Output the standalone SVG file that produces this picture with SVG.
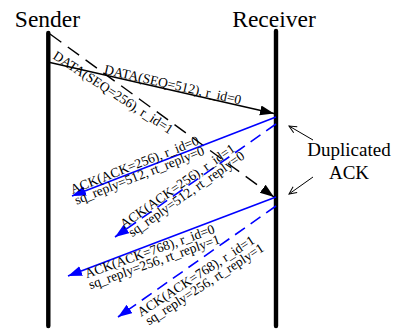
<svg xmlns="http://www.w3.org/2000/svg" width="393" height="331" viewBox="0 0 393 331">
  <style>
    .title { font-family: "Liberation Serif", "Times New Roman", serif; font-size: 23.5px; fill: #000; text-anchor: middle; }
    .note { font-family: "Liberation Serif", "Times New Roman", serif; font-size: 19px; fill: #000; text-anchor: middle; }
    .lbl { font-family: "Liberation Serif", "Times New Roman", serif; font-size: 13.5px; fill: #000; }
    .life { stroke: #000; stroke-width: 4.4; stroke-linecap: round; fill: none; }
    .msg { stroke: #000; stroke-width: 1.4; fill: none; }
    .ack { stroke: #0000ff; stroke-width: 1.6; fill: none; }
    .dash-k { stroke-dasharray: 14 8; }
    .dash-b { stroke-dasharray: 12 7; }
    .pointer { stroke: #000; stroke-width: 1; fill: none; }
  </style>
  <defs>
    <marker id="head-black" markerUnits="userSpaceOnUse" viewBox="0 0 15 11" markerWidth="15" markerHeight="11" refX="14" refY="5" orient="auto">
      <path d="M0,0 L14,5 L0,10 z" fill="#000"/>
    </marker>
    <marker id="head-blue" markerUnits="userSpaceOnUse" viewBox="0 0 15 11" markerWidth="15" markerHeight="11" refX="14" refY="5" orient="auto">
      <path d="M0,0 L14,5 L0,10 z" fill="#0000ff"/>
    </marker>
    <marker id="head-open" markerUnits="userSpaceOnUse" viewBox="0 0 10 10" markerWidth="10" markerHeight="10" refX="8.5" refY="4.5" orient="auto">
      <path d="M1,1 L8.5,4.5 L1,8" fill="none" stroke="#000" stroke-width="1"/>
    </marker>
  </defs>

  <!-- lifelines -->
  <g id="sender">
    <text class="title" x="47.5" y="26.5">Sender</text>
    <line class="life" x1="48.3" y1="33" x2="48.3" y2="326"/>
  </g>
  <g id="receiver">
    <text class="title" x="274" y="26.5">Receiver</text>
    <line class="life" x1="276" y1="31" x2="276" y2="326"/>
  </g>

  <!-- messages -->
  <g id="connectors">
    <line class="msg" x1="50" y1="62.5" x2="274" y2="113.5" marker-end="url(#head-black)"/>
    <line class="msg dash-k" x1="50" y1="34" x2="274" y2="197" marker-end="url(#head-black)"/>
    <line class="ack" x1="276" y1="117" x2="72" y2="196" marker-end="url(#head-blue)"/>
    <line class="ack dash-b" x1="276" y1="124" x2="115" y2="237" marker-end="url(#head-blue)"/>
    <line class="ack" x1="276" y1="197" x2="68" y2="276" marker-end="url(#head-blue)"/>
    <line class="ack dash-b" x1="276" y1="206" x2="118" y2="317" marker-end="url(#head-blue)"/>
    <line class="pointer" x1="313" y1="140" x2="289" y2="126" marker-end="url(#head-open)"/>
    <line class="pointer" x1="313" y1="177" x2="289" y2="194" marker-end="url(#head-open)"/>
  </g>

  <!-- message labels -->
  <g id="label-data-512">
    <text class="lbl" transform="translate(103.5,73.5) rotate(12.8)">DATA(SEQ=512), r_id=0</text>
  </g>
  <g id="label-data-256">
    <text class="lbl" transform="translate(52,58) rotate(33)">DATA(SEQ=256), r_id=1</text>
  </g>
  <g id="label-ack-256-0" transform="translate(72.5,194) rotate(-21.4)">
    <text class="lbl"><tspan x="0" y="0">ACK(ACK=256), r_id=0</tspan><tspan x="0" y="11.5">sq_reply=512, rt_reply=0</tspan></text>
  </g>
  <g id="label-ack-256-1" transform="translate(124,229) rotate(-35)">
    <text class="lbl"><tspan x="0" y="0">ACK(ACK=256), r_id=1</tspan><tspan x="2" y="11.5">sq_reply=512, rt_reply=0</tspan></text>
  </g>
  <g id="label-ack-768-0" transform="translate(86.7,278.3) rotate(-19.5)">
    <text class="lbl"><tspan x="0" y="0">ACK(ACK=768), r_id=0</tspan><tspan x="0" y="11.5">sq_reply=256, rt_reply=1</tspan></text>
  </g>
  <g id="label-ack-768-1" transform="translate(141,317) rotate(-33)">
    <text class="lbl"><tspan x="0" y="0">ACK(ACK=768), r_id=1</tspan><tspan x="2" y="11.5">sq_reply=256, rt_reply=1</tspan></text>
  </g>

  <!-- annotation -->
  <g id="note-duplicated">
    <text class="note" x="349" y="156">Duplicated</text>
    <text class="note" x="349" y="179">ACK</text>
  </g>
</svg>
